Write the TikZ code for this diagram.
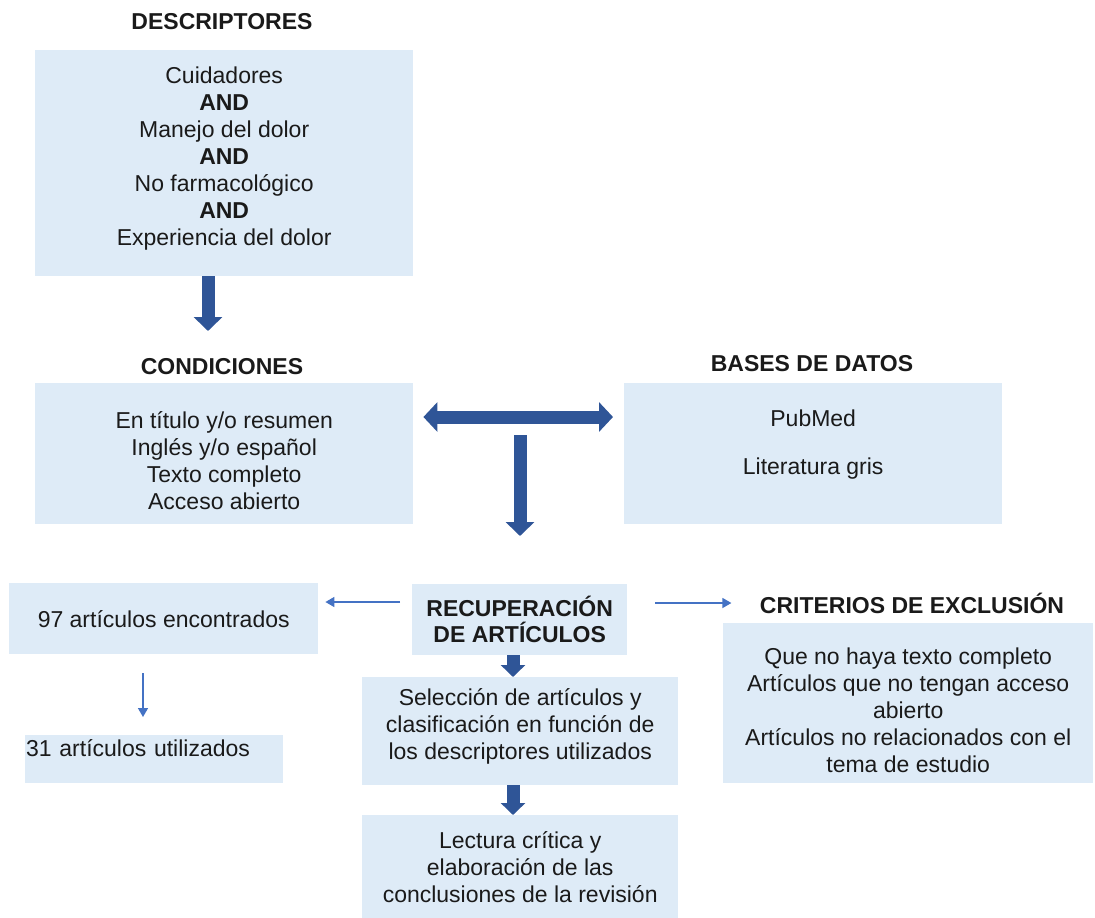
\documentclass[tikz,border=0pt]{standalone}
\usepackage{fontspec}
\setmainfont{Liberation Sans}
\usetikzlibrary{arrows.meta,calc}
\definecolor{boxfill}{HTML}{DEEBF7}
\definecolor{darkarrow}{HTML}{2F5597}
\definecolor{thinarrow}{HTML}{4472C4}
\definecolor{txt}{HTML}{1A1A1A}
\begin{document}
\begin{tikzpicture}[x=1pt,y=-1pt,
  box/.style={fill=boxfill, draw=none, anchor=north west, inner sep=2pt, align=center, text=txt, font=\fontsize{23}{27}\selectfont},
  title/.style={text=txt, font=\bfseries\fontsize{23}{27}\selectfont},
  bigarrow/.style={draw=darkarrow, line width=13pt, -{Triangle[width=28pt,length=14pt]}},
  smallarrow/.style={draw=thinarrow, line width=1.5pt, -{Triangle[width=10pt,length=9pt]}}]
\useasboundingbox (0,0) rectangle (1095,918);
% titles
\node[title] (tdesc) at (222,22) {DESCRIPTORES};
\node[title] (tcond) at (222,367) {CONDICIONES};
\node[title] (tbases) at (812,364) {BASES DE DATOS};
\node[title] (tcrit) at (912,603) {CRITERIOS DE EXCLUSIÓN};
% boxes
\node[box, minimum width=378pt, minimum height=226pt] (desc) at (35,50)
  {Cuidadores\\\textbf{AND}\\Manejo del dolor\\\textbf{AND}\\No farmacológico\\\textbf{AND}\\Experiencia del dolor\rule[-15pt]{0pt}{0pt}};
\node[box, minimum width=378pt, minimum height=141pt] (cond) at (35,383)
  {\rule{0pt}{30pt}En título y/o resumen\\Inglés y/o español\\Texto completo\\Acceso abierto};
\node[box, minimum width=378pt, minimum height=141pt] (bases) at (624,383)
  {PubMed\\[21pt]Literatura gris\rule[-23pt]{0pt}{0pt}};
\node[box, font=\bfseries\fontsize{23}{26}\selectfont, minimum width=215pt, minimum height=71pt] (recup) at (412,584)
  {RECUPERACIÓN\\DE ARTÍCULOS};
\node[box, minimum width=316pt, minimum height=108pt] (sel) at (362,677)
  {Selección de artículos y\\clasificación en función de\\los descriptores utilizados\rule[-15pt]{0pt}{0pt}};
\node[box, minimum width=316pt, minimum height=103pt] (lect) at (362,815)
  {Lectura crítica y\\elaboración de las\\conclusiones de la revisión};
\node[box, minimum width=309pt, minimum height=71pt] (found) at (9,583)
  {97 artículos encontrados};
\node[box, minimum width=258pt, minimum height=48pt, text width=256pt, align=left, inner xsep=1pt, inner ysep=0pt, text height=21pt, text depth=27pt] (used) at (25,735)
  {31 artículos utilizados};
\node[box, minimum width=370pt, minimum height=160pt] (crit) at (723,623)
  {\rule{0pt}{31pt}Que no haya texto completo\\Artículos que no tengan acceso\\abierto\\Artículos no relacionados con el\\tema de estudio};
% thick arrows
\coordinate (a1) at (208,331);
\draw[bigarrow] (desc.south -| a1) -- (a1);
\coordinate (h) at (518,417);
\draw[bigarrow, {Triangle[width=29pt,length=14pt]}-{Triangle[width=29pt,length=14pt]}, shorten <=10pt, shorten >=11pt] (cond.east |- h) -- (bases.west |- h);
\coordinate (t) at (520,435);
\coordinate (t2) at (520,536);
\draw[bigarrow] (t) -- (t2);
\coordinate (v) at (513,0);
\draw[bigarrow, -{Triangle[width=24pt,length=12pt]}] (recup.south -| v) -- (sel.north -| v);
\draw[bigarrow, -{Triangle[width=24pt,length=12pt]}] (sel.south -| v) -- (lect.north -| v);
% thin arrows
\coordinate (l) at (0,602);
\draw[smallarrow, shorten <=12pt, shorten >=7pt] (recup.west |- l) -- (found.east |- l);
\coordinate (r) at (0,603);
\draw[smallarrow, shorten <=28pt, shorten >=25pt] (recup.east |- r) -- (tcrit.west |- r);
\coordinate (d) at (143,0);
\draw[smallarrow, shorten <=19pt, shorten >=18pt] (found.south -| d) -- (used.north -| d);
\end{tikzpicture}
\end{document}
